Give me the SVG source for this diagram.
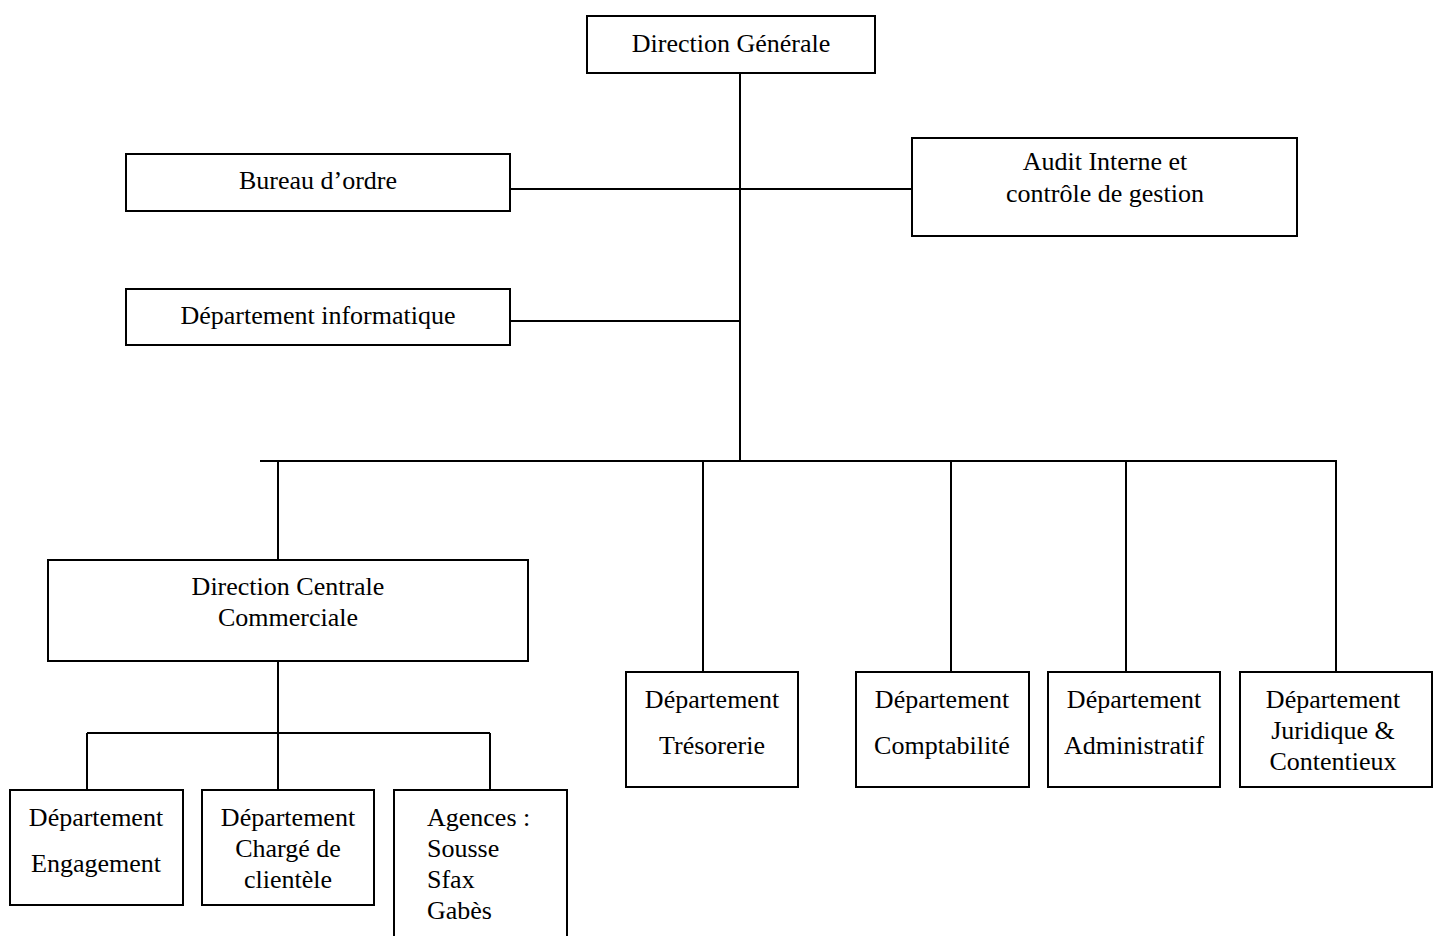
<svg xmlns="http://www.w3.org/2000/svg" width="1436" height="936" viewBox="0 0 1436 936">
<style>
.box{fill:#fff;stroke:#000;stroke-width:2}
.ln{stroke:#000;stroke-width:2;fill:none}
text{font-family:"Liberation Serif","Times New Roman",serif;font-size:26px;fill:#000}
.c{text-anchor:middle}
</style>
<rect width="1436" height="936" fill="#fff"/>
<g id="connectors">
<line class="ln" x1="740" y1="73" x2="740" y2="461"/>
<line class="ln" x1="510" y1="189" x2="912" y2="189"/>
<line class="ln" x1="510" y1="321" x2="740" y2="321"/>
<line class="ln" x1="260" y1="461" x2="1337" y2="461"/>
<line class="ln" x1="278" y1="461" x2="278" y2="560"/>
<line class="ln" x1="703" y1="461" x2="703" y2="672"/>
<line class="ln" x1="951" y1="461" x2="951" y2="672"/>
<line class="ln" x1="1126" y1="461" x2="1126" y2="672"/>
<line class="ln" x1="1336" y1="461" x2="1336" y2="672"/>
<line class="ln" x1="278" y1="661" x2="278" y2="790"/>
<line class="ln" x1="87" y1="733" x2="490" y2="733"/>
<line class="ln" x1="87" y1="733" x2="87" y2="790"/>
<line class="ln" x1="490" y1="733" x2="490" y2="790"/>
</g>
<g id="direction-generale">
<rect class="box" x="587" y="16" width="288" height="57"/>
<text class="c" x="731" y="52">Direction Générale</text>
</g>
<g id="bureau-ordre">
<rect class="box" x="126" y="154" width="384" height="57"/>
<text class="c" x="318" y="189">Bureau d’ordre</text>
</g>
<g id="audit">
<rect class="box" x="912" y="138" width="385" height="98"/>
<text class="c" x="1105" y="170">Audit Interne et</text>
<text class="c" x="1105" y="202">contrôle de gestion</text>
</g>
<g id="dept-informatique">
<rect class="box" x="126" y="289" width="384" height="56"/>
<text class="c" x="318" y="324">Département informatique</text>
</g>
<g id="direction-centrale">
<rect class="box" x="48" y="560" width="480" height="101"/>
<text class="c" x="288" y="595">Direction Centrale</text>
<text class="c" x="288" y="626">Commerciale</text>
</g>
<g id="dept-engagement">
<rect class="box" x="10" y="790" width="173" height="115"/>
<text class="c" x="96" y="826">Département</text>
<text class="c" x="96" y="872">Engagement</text>
</g>
<g id="dept-charge">
<rect class="box" x="202" y="790" width="172" height="115"/>
<text class="c" x="288" y="826">Département</text>
<text class="c" x="288" y="857">Chargé de</text>
<text class="c" x="288" y="888">clientèle</text>
</g>
<g id="agences">
<rect class="box" x="394" y="790" width="173" height="150"/>
<text x="427" y="826">Agences :</text>
<text x="427" y="857">Sousse</text>
<text x="427" y="888">Sfax</text>
<text x="427" y="919">Gabès</text>
</g>
<g id="dept-tresorerie">
<rect class="box" x="626" y="672" width="172" height="115"/>
<text class="c" x="712" y="708">Département</text>
<text class="c" x="712" y="754">Trésorerie</text>
</g>
<g id="dept-comptabilite">
<rect class="box" x="856" y="672" width="173" height="115"/>
<text class="c" x="942" y="708">Département</text>
<text class="c" x="942" y="754">Comptabilité</text>
</g>
<g id="dept-administratif">
<rect class="box" x="1048" y="672" width="172" height="115"/>
<text class="c" x="1134" y="708">Département</text>
<text class="c" x="1134" y="754">Administratif</text>
</g>
<g id="dept-juridique">
<rect class="box" x="1240" y="672" width="192" height="115"/>
<text class="c" x="1333" y="708">Département</text>
<text class="c" x="1333" y="739">Juridique &amp;</text>
<text class="c" x="1333" y="770">Contentieux</text>
</g>
</svg>
